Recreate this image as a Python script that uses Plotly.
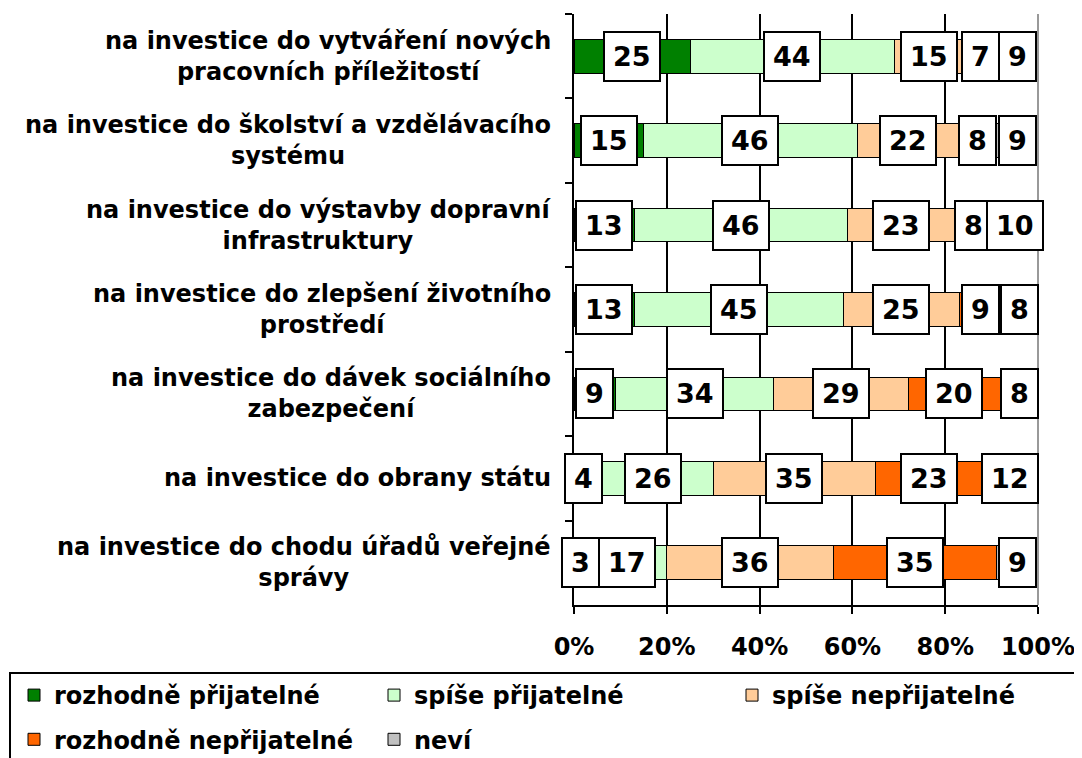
import plotly.graph_objects as go

categories = [
    "na investice do vytváření nových<br>pracovních příležitostí",
    "na investice do školství a vzdělávacího<br>systému",
    "na investice do výstavby dopravní<br>infrastruktury",
    "na investice do zlepšení životního<br>prostředí",
    "na investice do dávek sociálního<br>zabezpečení",
    "na investice do obrany státu",
    "na investice do chodu úřadů veřejné<br>správy",
]
series_names = ["rozhodně přijatelné", "spíše přijatelné", "spíše nepřijatelné",
                "rozhodně nepřijatelné", "neví"]
rozhodne_prijatelne = [25, 15, 13, 13, 9, 4, 3]
spise_prijatelne = [44, 46, 46, 45, 34, 26, 17]
spise_neprijatelne = [15, 22, 23, 25, 29, 35, 36]
rozhodne_neprijatelne = [7, 8, 8, 9, 20, 23, 35]
nevi = [9, 9, 10, 8, 8, 12, 9]
colors = ["#008000", "#CCFFCC", "#FFCC99", "#FF6600", "#C0C0C0"]
legend_of_series = ["legend", "legend2", "legend3", "legend", "legend2"]
x_ticks = [0, 20, 40, 60, 80, 100]
x_tick_labels = ["0%", "20%", "40%", "60%", "80%", "100%"]

series = [rozhodne_prijatelne, spise_prijatelne, spise_neprijatelne,
          rozhodne_neprijatelne, nevi]

FONT = "DejaVu Sans"
W, H = 1082, 758
OFF = 8  # page body margin
L, R, T, B = 574 - OFF, 44 + OFF, 14 - OFF, 153 + OFF

fig = go.Figure()
for i, (name, vals, col, lg) in enumerate(zip(series_names, series, colors, legend_of_series)):
    fig.add_trace(go.Bar(
        y=categories, x=vals, name=f"<b>{name}</b>", orientation="h",
        marker=dict(color=col, line=dict(color="black", width=1)),
        legend=lg, legendgroup=f"g{i}",
        hovertemplate=name + ": %{x}%<extra></extra>",
    ))

annotations = []
for ci, cat in enumerate(categories):
    cum = 0
    for vals in series:
        v = vals[ci]
        annotations.append(dict(
            x=cum + v / 2, y=cat, xref="x", yref="y", text=f"<b>{v}</b>",
            showarrow=False, font=dict(family=FONT, size=27, color="black"),
            bgcolor="white", bordercolor="black", borderwidth=2, borderpad=8,
        ))
        cum += v
    annotations.append(dict(
        x=0, y=cat, xref="paper", yref="y", text=f"<b>{cat}</b>",
        xanchor="right", yanchor="middle", align="center", xshift=-21,
        showarrow=False, font=dict(family=FONT, size=24, color="black"),
    ))

legend_common = dict(
    orientation="v", xref="container", yref="container", xanchor="left", yanchor="top",
    font=dict(family=FONT, size=24, color="black"), bgcolor="rgba(0,0,0,0)",
    traceorder="grouped", tracegroupgap=10, borderwidth=0,
)
legend_top = 1 - (673 - OFF) / H

pw = W - L - R
ph = H - T - B

fig.update_layout(
    barmode="stack",
    bargap=0.6,
    width=W, height=H,
    margin=dict(l=L, r=R, t=T, b=B, autoexpand=False),
    paper_bgcolor="white", plot_bgcolor="white",
    font=dict(family=FONT, size=24, color="black"),
    annotations=annotations,
    xaxis=dict(
        range=[0, 100], tickvals=x_ticks, ticktext=[f"<b>{t}</b>" for t in x_tick_labels],
        showgrid=True, gridcolor="black", gridwidth=2,
        showline=True, linecolor="black", linewidth=2,
        ticks="outside", ticklen=7, tickwidth=2, tickcolor="black",
        tickfont=dict(family=FONT, size=24, color="black"), zeroline=False,
        automargin=False, ticklabelstandoff=12,
    ),
    yaxis=dict(
        categoryorder="array", categoryarray=categories, autorange="reversed",
        showticklabels=False, showline=True, linecolor="black", linewidth=2,
        ticks="outside", tickson="boundaries", ticklen=7, tickwidth=2, tickcolor="black",
        showgrid=False, automargin=False,
    ),
    legend=dict(legend_common, x=(14 - OFF) / W, y=legend_top),
    legend2=dict(legend_common, x=(374 - OFF) / W, y=legend_top),
    legend3=dict(legend_common, x=(732 - OFF) / W, y=legend_top),
    shapes=[
        dict(type="line", xref="paper", yref="paper", x0=1, x1=1, y0=0, y1=1,
             line=dict(color="#999999", width=2)),
        dict(type="rect", xref="paper", yref="paper",
             x0=(10 - 574) / pw, x1=1.2, y0=-0.4, y1=(605 - 673) / ph,
             line=dict(color="black", width=2), fillcolor="rgba(0,0,0,0)"),
    ],
    showlegend=True,
)

fig.write_html("out.html")
